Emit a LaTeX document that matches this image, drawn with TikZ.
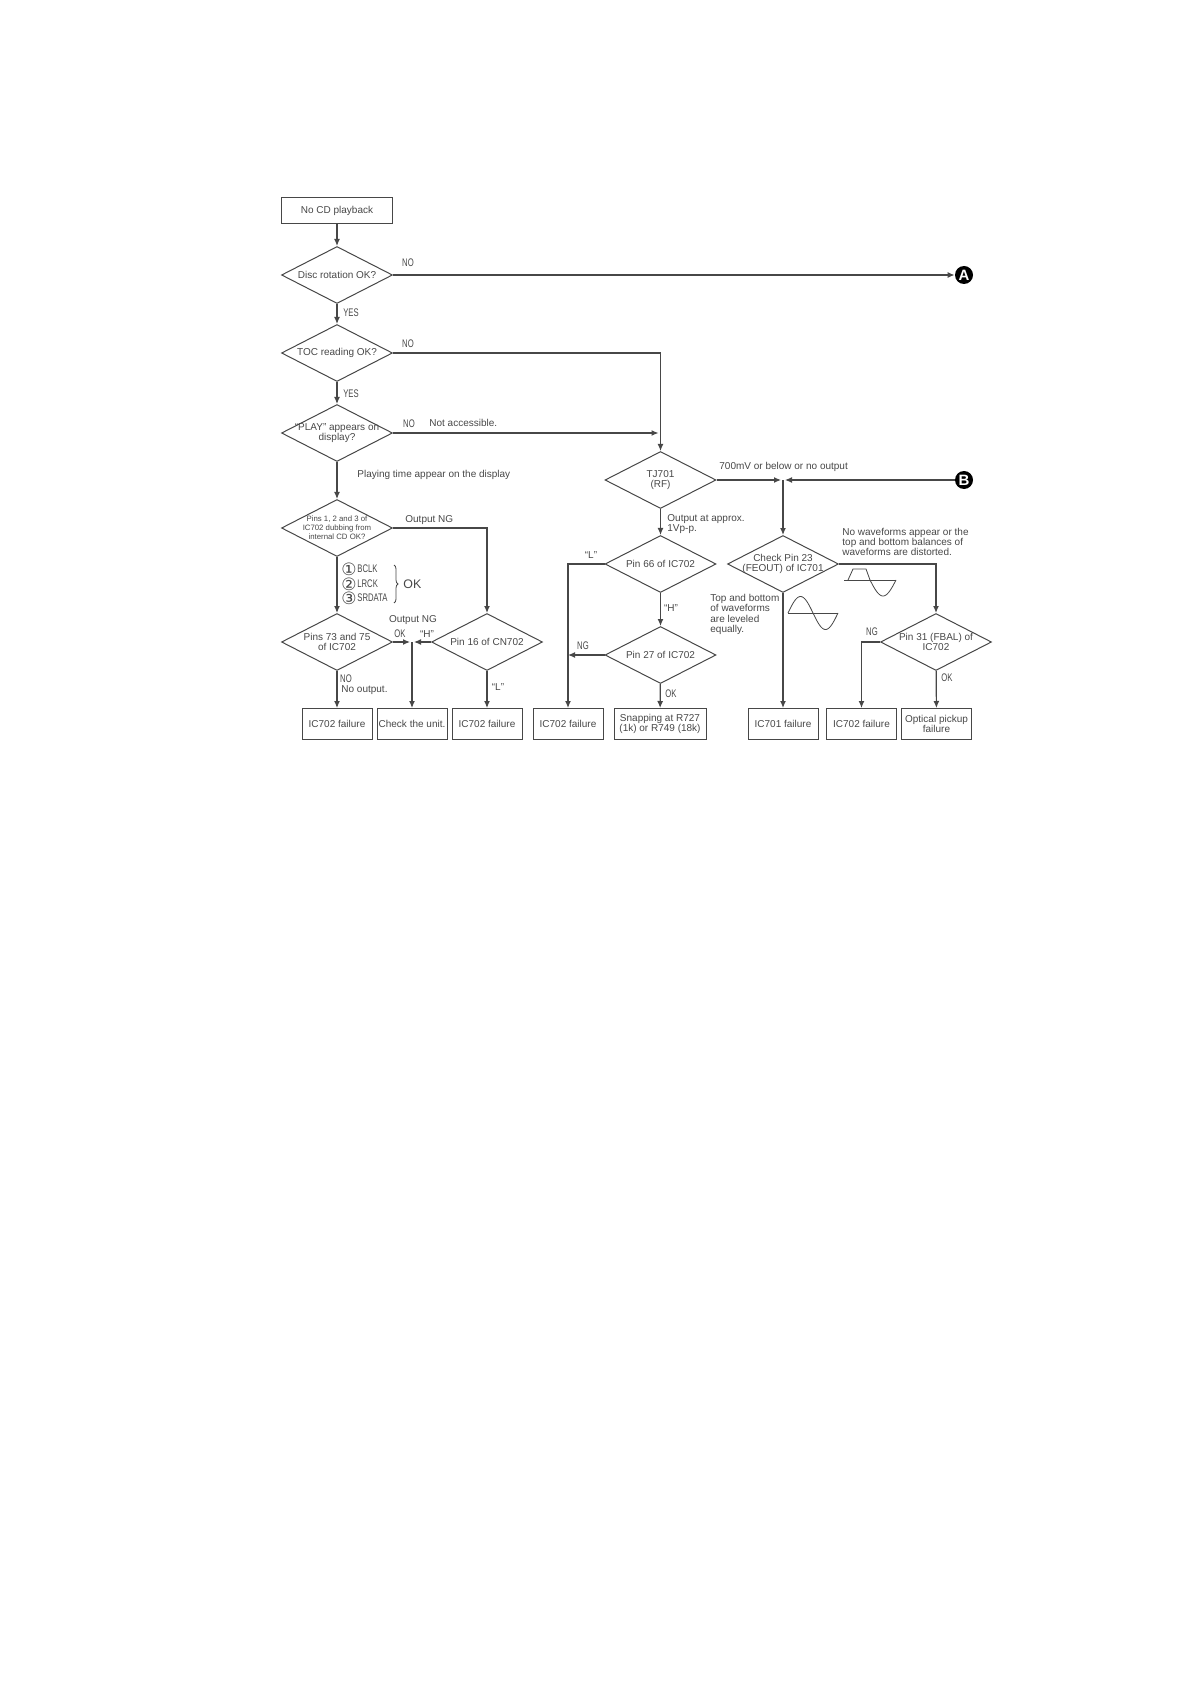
\documentclass[tikz,border=0pt]{standalone}
\usepackage{fontspec}
\setmainfont{Liberation Sans}
\newfontfamily\narrowfont[FakeStretch=0.7]{Liberation Sans}
\newfontfamily\symbolfont{DejaVu Sans}
\usetikzlibrary{arrows.meta,positioning,calc,shapes.geometric,decorations.pathreplacing}

\begin{document}
\begin{tikzpicture}[
    x=0.5pt, y=-0.5pt,
    font=\fontsize{5}{5.1}\selectfont,
    text=black!72,
    every label/.style={align=center, inner sep=0pt, text=black!72},
    arrow/.style={-{Latex[length=3.5pt,width=3pt]}, line width=0.6pt, draw=black!72},
    plain/.style={line width=0.6pt, draw=black!72},
    box/.style={draw=black!72, line width=0.5pt, align=center, inner sep=0pt},
    failbox/.style={box, minimum width=35pt, minimum height=15.5pt},
    decision/.style={diamond, draw=black!72, line width=0.5pt, aspect=2, inner sep=0pt, minimum width=55.5pt, minimum height=28.5pt},
    note/.style={inner sep=0pt, align=left, anchor=west},
    tag/.style={inner sep=0pt, font=\narrowfont\fontsize{5.5}{6}\selectfont},
    circled/.style={inner sep=0pt, font=\symbolfont\fontsize{8.5}{8.5}\selectfont},
    terminal/.style={circle, fill=black, inner sep=0pt, minimum size=9pt, text=white, font=\fontsize{7.5}{8}\selectfont\bfseries},
    wave/.style={line width=0.4pt, draw=black!72}
]
\useasboundingbox (0,0) rectangle (1190,1684);

% left column
\node[box, minimum width=55.5pt, minimum height=13pt] (start) at (337,211) {No CD playback};
\node[decision, label={center:Disc rotation OK?}] (disc) at (337,275) {};
\node[decision, label={center:TOC reading OK?}] (toc) at (337,353) {};
\node[decision, label={center:``PLAY'' appears on\\display?}] (play) at (337,433) {};
\node[decision, label={[font=\fontsize{3.9}{4.6}\selectfont]center:Pins 1, 2 and 3 of\\IC702 dubbing from\\internal CD OK?}] (pins) at (337,528) {};
\node[decision, label={center:Pins 73 and 75\\of IC702}] (pinsout) at (337,642) {};
\node[decision, label={center:Pin 16 of CN702}] (cnpin) at (487,642) {};

\node[failbox] (failone) at (337,724) {IC702 failure};
\node[failbox] (unit) at (412,724) {Check the unit.};
\node[failbox] (failtwo) at (487,724) {IC702 failure};

\coordinate (join) at (412,642);

\draw[arrow] (start) -- (disc);
\draw[arrow] (disc) -- (toc);
\draw[arrow] (toc) -- (play);
\draw[arrow] (play) -- (pins);
\draw[arrow] (pins) -- (pinsout);
\draw[arrow] (pinsout) -- (failone);
\draw[arrow] (cnpin) -- (failtwo);
\draw[arrow] (pins.east) -| (cnpin.north);
\draw[arrow, shorten >=1pt] (pinsout.east) -- (join);
\draw[arrow, shorten >=1pt] (cnpin.west) -- (join);
\draw[arrow] (join) -- (unit);

\node[tag] (discno) at (408,263) {NO};
\node[tag] (discyes) at (351,313) {YES};
\node[tag] (tocno) at (408,344) {NO};
\node[tag] (tocyes) at (351,393.5) {YES};
\node[tag] (playno) at (409,424) {NO};
\node[note] (access) at (429,423) {Not accessible.};
\node[note] (playing) at (357,475) {Playing time appear on the display};
\node[note] (outng) at (405,520.5) {Output NG};

\node[circled] (cone) at (349,569) {①};
\node[circled] (ctwo) at (349,584) {②};
\node[circled] (cthree) at (349,598) {③};
\node[tag, anchor=west] (bclk) at (357,569) {BCLK};
\node[tag, anchor=west] (lrck) at (357,584) {LRCK};
\node[tag, anchor=west] (srdata) at (357,598) {SRDATA};
\coordinate (bracetop) at (394,565);
\coordinate (bracebot) at (394,603);
\draw[wave, decorate, decoration={brace, amplitude=2pt}] (bracetop) -- (bracebot);
\node[note, font=\fontsize{6.2}{7}\selectfont] (okall) at (403,584) {OK};

\node[inner sep=0pt] (smallng) at (413,620) {Output NG};
\node[tag] (okjoin) at (400,634) {OK};
\node[inner sep=0pt] (hjoin) at (427,634) {``H''};
\node[tag] (outno) at (346,679) {NO};
\node[note] (noout) at (341,690) {No output.};
\node[inner sep=0pt] (lcn) at (498,687) {``L''};

% middle column
\node[decision, label={center:TJ701\\(RF)}] (tj) at (660.5,480) {};
\node[decision, label={center:Pin 66 of IC702}] (pinsixty) at (660.5,564) {};
\node[decision, label={center:Pin 27 of IC702}] (pintwenty) at (660.5,655) {};
\node[failbox] (failthree) at (568,724) {IC702 failure};
\node[box, minimum width=46pt, minimum height=15.5pt] (snap) at (660,724) {Snapping at R727\\(1k) or R749 (18k)};

\coordinate (tocturn) at (tj.north |- toc.east);
\coordinate (playend) at (tj.north |- play.east);
\draw[plain] (toc.east) -- (tocturn);
\draw[arrow] (tocturn) -- (tj.north);
\draw[arrow, shorten >=1pt] (play.east) -- (playend);
\draw[arrow] (tj) -- (pinsixty);
\draw[arrow] (pinsixty) -- (pintwenty);
\draw[arrow] (pintwenty) -- (snap);
\draw[arrow] (pinsixty.west) -| (failthree.north);
\draw[arrow] (pintwenty.west) -- (pintwenty.west -| failthree.north);

\node[note] (approx) at (667,524) {Output at approx.\\1Vp-p.};
\node[inner sep=0pt] (lsixty) at (591,555) {``L''};
\node[inner sep=0pt] (hsixty) at (671,608) {``H''};
\node[tag] (ngtwenty) at (583,646) {NG};
\node[tag] (oktwenty) at (671,694) {OK};

% right column
\node[terminal] (termA) at (964,275) {A};
\node[terminal] (termB) at (964,480) {B};
\node[decision, label={center:Check Pin 23\\(FEOUT) of IC701}] (check) at (783,564) {};
\node[decision, label={center:Pin 31 (FBAL) of\\IC702}] (fbal) at (936,642) {};
\node[failbox] (failfour) at (783,724) {IC701 failure};
\node[failbox] (failfive) at (861.5,724) {IC702 failure};
\node[failbox] (pickup) at (936.5,724) {Optical pickup\\failure};

\draw[arrow] (disc.east) -- (termA.west);
\coordinate (merge) at (783,480);
\draw[arrow, shorten >=1pt] (tj.east) -- (merge);
\draw[arrow, shorten >=1pt] (termB.west) -- (merge);
\draw[arrow] (merge) -- (check.north);
\draw[arrow] (check) -- (failfour);
\draw[arrow] (check.east) -| (fbal.north);
\draw[arrow] (fbal.west) -| (failfive.north);
\draw[arrow] (fbal) -- (pickup);

\node[note] (low) at (719,467) {700mV or below or no output};
\node[note] (nowave) at (842,542) {No waveforms appear or the\\top and bottom balances of\\waveforms are distorted.};
\node[note] (level) at (710,614.5) {Top and bottom\\of waveforms\\are leveled\\equally.};
\node[tag] (ngfbal) at (872,632) {NG};
\node[tag] (okfbal) at (947,678) {OK};

% waveforms
\draw[wave] (788,613) -- (838,613);
\draw[wave] plot[domain=0:360, samples=49, smooth] ({788+\x/360*50},{613-16.5*sin(\x)});
\draw[wave] (844,580) -- (896,580);
\draw[wave] (848,580) -- (853,569) -- (866,569) -- (870,580);
\draw[wave] plot[domain=180:360, samples=25, smooth] ({870+(\x-180)/180*26},{580-16*sin(\x)});

\end{tikzpicture}
\end{document}
